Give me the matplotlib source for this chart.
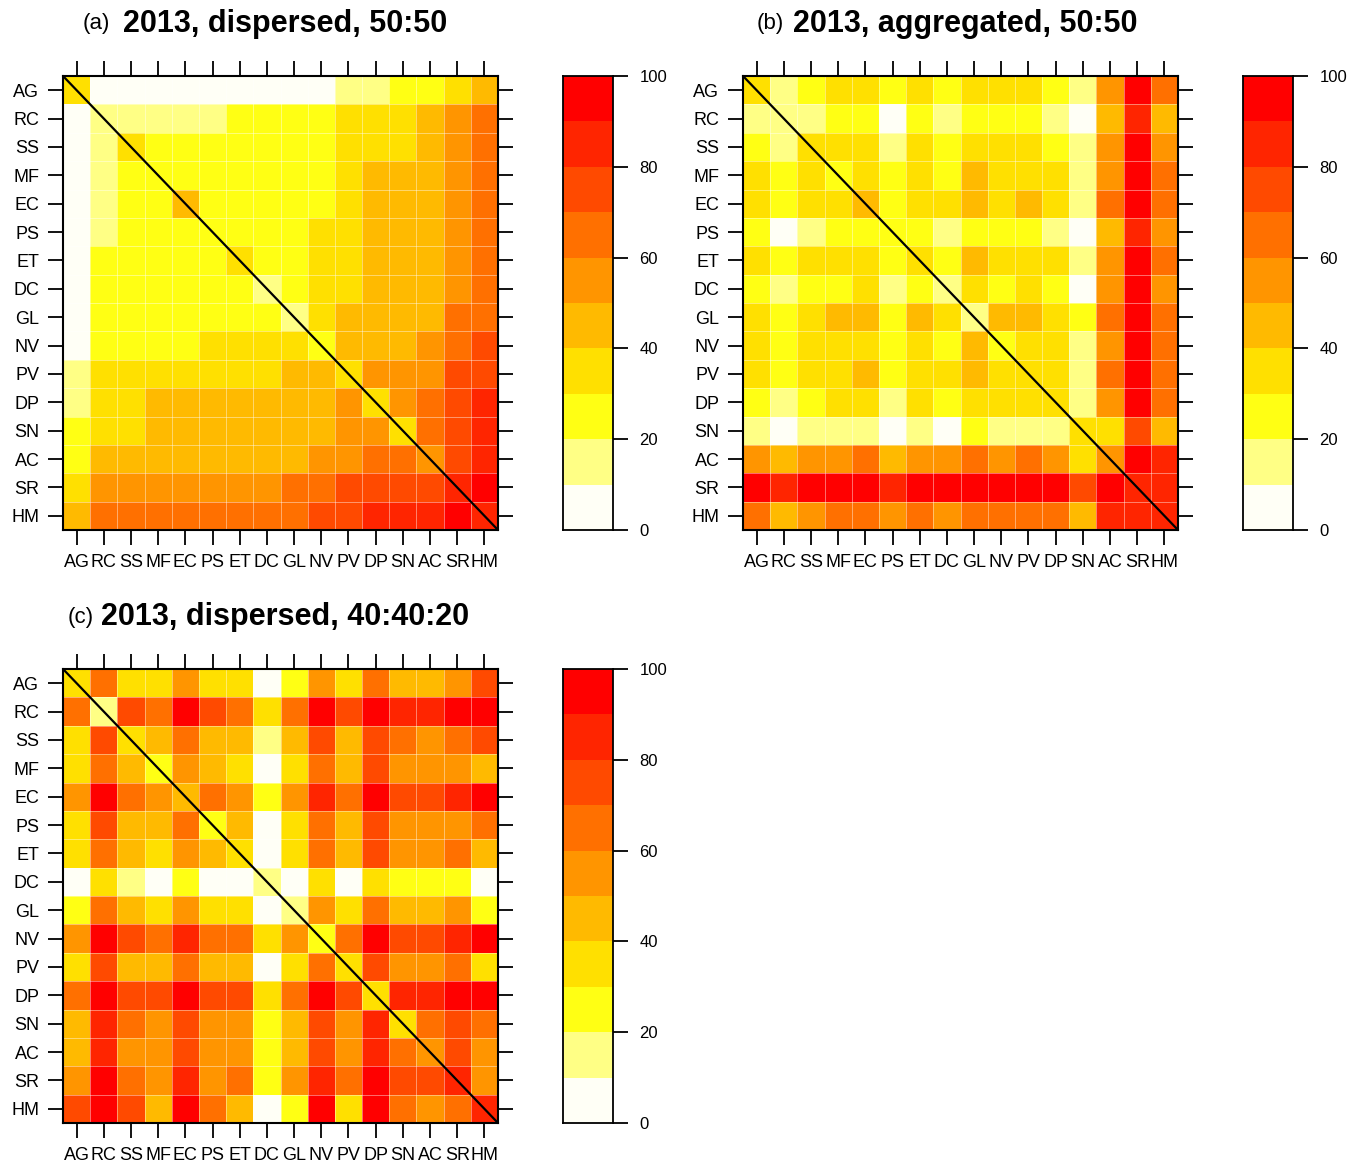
import numpy as np
import matplotlib
matplotlib.use("Agg")
import matplotlib.pyplot as plt
from matplotlib.colors import ListedColormap, BoundaryNorm

plt.rcParams['font.family'] = ['Liberation Sans', 'DejaVu Sans']

labels = ["AG", "RC", "SS", "MF", "EC", "PS", "ET", "DC", "GL", "NV", "PV", "DP", "SN", "AC", "SR", "HM"]

# percentages (rows top->bottom, columns left->right)
dispersed_50_50 = [
    [35, 5, 5, 5, 5, 5, 5, 5, 5, 5, 15, 15, 25, 25, 35, 45],
    [5, 15, 15, 15, 15, 15, 25, 25, 25, 25, 35, 35, 35, 45, 55, 65],
    [5, 15, 35, 25, 25, 25, 25, 25, 25, 25, 35, 35, 35, 45, 55, 65],
    [5, 15, 25, 25, 25, 25, 25, 25, 25, 25, 35, 45, 45, 45, 55, 65],
    [5, 15, 25, 25, 45, 25, 25, 25, 25, 25, 35, 45, 45, 45, 55, 65],
    [5, 15, 25, 25, 25, 25, 25, 25, 25, 35, 35, 45, 45, 45, 55, 65],
    [5, 25, 25, 25, 25, 25, 35, 25, 25, 35, 35, 45, 45, 45, 55, 65],
    [5, 25, 25, 25, 25, 25, 25, 15, 25, 35, 35, 45, 45, 45, 55, 65],
    [5, 25, 25, 25, 25, 25, 25, 25, 15, 35, 45, 45, 45, 45, 65, 65],
    [5, 25, 25, 25, 25, 35, 35, 35, 35, 25, 45, 45, 45, 55, 65, 75],
    [15, 35, 35, 35, 35, 35, 35, 35, 45, 45, 35, 55, 55, 55, 75, 75],
    [15, 35, 35, 45, 45, 45, 45, 45, 45, 45, 55, 35, 55, 65, 75, 85],
    [25, 35, 35, 45, 45, 45, 45, 45, 45, 45, 55, 55, 35, 65, 75, 85],
    [25, 45, 45, 45, 45, 45, 45, 45, 45, 55, 55, 65, 65, 55, 75, 85],
    [35, 55, 55, 55, 55, 55, 55, 55, 65, 65, 75, 75, 75, 75, 85, 95],
    [45, 65, 65, 65, 65, 65, 65, 65, 65, 75, 75, 85, 85, 85, 95, 85],
]

aggregated_50_50 = [
    [35, 15, 25, 35, 35, 25, 35, 25, 35, 35, 35, 25, 15, 55, 95, 65],
    [15, 15, 15, 25, 25, 5, 25, 15, 25, 25, 25, 15, 5, 45, 85, 45],
    [25, 15, 35, 35, 35, 15, 35, 25, 35, 35, 35, 25, 15, 55, 95, 55],
    [35, 25, 35, 25, 35, 25, 35, 25, 45, 35, 35, 35, 15, 55, 95, 65],
    [35, 25, 35, 35, 45, 25, 35, 35, 45, 35, 45, 35, 15, 65, 95, 65],
    [25, 5, 15, 25, 25, 25, 25, 15, 25, 25, 25, 15, 5, 45, 85, 55],
    [35, 25, 35, 35, 35, 25, 35, 25, 45, 35, 35, 35, 15, 55, 95, 65],
    [25, 15, 25, 25, 35, 15, 25, 15, 35, 25, 35, 25, 5, 55, 95, 55],
    [35, 25, 35, 45, 45, 25, 45, 35, 15, 45, 45, 35, 25, 65, 95, 65],
    [35, 25, 35, 35, 35, 25, 35, 25, 45, 25, 35, 35, 15, 55, 95, 65],
    [35, 25, 35, 35, 45, 25, 35, 35, 45, 35, 35, 35, 15, 65, 95, 65],
    [25, 15, 25, 35, 35, 15, 35, 25, 35, 35, 35, 35, 15, 55, 95, 65],
    [15, 5, 15, 15, 15, 5, 15, 5, 25, 15, 15, 15, 35, 35, 75, 45],
    [55, 45, 55, 55, 65, 45, 55, 55, 65, 55, 65, 55, 35, 55, 95, 85],
    [95, 85, 95, 95, 95, 85, 95, 95, 95, 95, 95, 95, 75, 95, 85, 85],
    [65, 45, 55, 65, 65, 55, 65, 55, 65, 65, 65, 65, 45, 85, 85, 85],
]

dispersed_40_40_20 = [
    [35, 65, 35, 35, 55, 35, 35, 5, 25, 55, 35, 65, 45, 45, 55, 75],
    [65, 15, 75, 65, 95, 75, 65, 35, 65, 95, 75, 95, 85, 85, 95, 95],
    [35, 75, 35, 45, 65, 45, 45, 15, 45, 75, 45, 75, 65, 55, 65, 75],
    [35, 65, 45, 25, 55, 45, 35, 5, 35, 65, 45, 75, 55, 55, 55, 45],
    [55, 95, 65, 55, 45, 65, 55, 25, 55, 85, 65, 95, 75, 75, 85, 95],
    [35, 75, 45, 45, 65, 25, 45, 5, 35, 65, 45, 75, 55, 55, 55, 65],
    [35, 65, 45, 35, 55, 45, 35, 5, 35, 65, 45, 75, 55, 55, 65, 45],
    [5, 35, 15, 5, 25, 5, 5, 15, 5, 35, 5, 35, 25, 25, 25, 5],
    [25, 65, 45, 35, 55, 35, 35, 5, 15, 55, 35, 65, 45, 45, 55, 25],
    [55, 95, 75, 65, 85, 65, 65, 35, 55, 25, 65, 95, 75, 75, 85, 95],
    [35, 75, 45, 45, 65, 45, 45, 5, 35, 65, 35, 75, 55, 55, 65, 35],
    [65, 95, 75, 75, 95, 75, 75, 35, 65, 95, 75, 35, 85, 85, 95, 95],
    [45, 85, 65, 55, 75, 55, 55, 25, 45, 75, 55, 85, 35, 65, 75, 65],
    [45, 85, 55, 55, 75, 55, 55, 25, 45, 75, 55, 85, 65, 55, 75, 55],
    [55, 95, 65, 55, 85, 55, 65, 25, 55, 85, 65, 95, 75, 75, 85, 55],
    [75, 95, 75, 45, 95, 65, 45, 5, 25, 95, 35, 95, 65, 55, 65, 85],
]

titles_tag = ["(a)", "(b)", "(c)"]
titles_main = ["2013, dispersed, 50:50", "2013, aggregated, 50:50", "2013, dispersed, 40:40:20"]
bar_ticks = [0, 20, 40, 60, 80, 100]

colors = ['#FFFFF6', '#FFFF85', '#FFFF14', '#FFE000', '#FFBA00',
          '#FF9500', '#FF7000', '#FF4A00', '#FF2500', '#FF0000']
bounds = np.arange(0, 101, 10)
cmap = ListedColormap(colors)
norm = BoundaryNorm(bounds, cmap.N)

W, H = 1358, 1162
fig = plt.figure(figsize=(W / 100, H / 100), dpi=100)

def fx(px):
    return px / W

def fy(py):
    return 1 - py / H

panels = [
    (dispersed_50_50, 63, 76, 563, (83, 24), (123, 24)),
    (aggregated_50_50, 743, 76, 1243, (757, 24), (793, 24)),
    (dispersed_40_40_20, 63, 669, 563, (68, 617), (101, 617)),
]
mw, mh = 435, 454

for i, (mat, x0, y0, cbx, tagpos, mainpos) in enumerate(panels):
    data = np.array(mat, dtype=float)
    ax = fig.add_axes([fx(x0), fy(y0 + mh), fx(mw), mh / H])
    n = len(labels)
    ax.pcolormesh(np.arange(n + 1), np.arange(n + 1), data, cmap=cmap, norm=norm)
    for k in range(1, n):
        ax.axhline(k, color='white', lw=0.6, alpha=0.5)
        ax.axvline(k, color='white', lw=0.6, alpha=0.5)
    ax.plot([0, n], [0, n], color='black', lw=1.6, solid_capstyle='butt')
    ax.set_xlim(0, n)
    ax.set_ylim(n, 0)
    ticks = np.arange(n) + 0.5
    ax.set_xticks(ticks)
    ax.set_yticks(ticks)
    ax.set_xticklabels(labels)
    ax.set_yticklabels(labels)
    ax.tick_params(axis='both', which='both', direction='out', length=11, width=1.3,
                   top=True, right=True, labeltop=False, labelright=False,
                   labelsize=13, colors='black')
    ax.tick_params(axis='y', pad=6)
    ax.tick_params(axis='x', pad=6)
    for sp in ax.spines.values():
        sp.set_linewidth(1.5)
        sp.set_color('black')

    # colour bar
    cax = fig.add_axes([fx(cbx), fy(y0 + mh), fx(50), mh / H])
    cax.pcolormesh([0, 1], bounds, np.array(bounds[:-1] + 5, dtype=float).reshape(-1, 1),
                   cmap=cmap, norm=norm)
    cax.set_xlim(0, 1)
    cax.set_ylim(0, 100)
    cax.set_xticks([])
    cax.yaxis.tick_right()
    cax.set_yticks(bar_ticks)
    cax.set_yticklabels([str(t) for t in bar_ticks])
    cax.tick_params(axis='y', direction='out', length=11, width=1.3, labelsize=12, pad=8,
                    left=False, right=True)
    for sp in cax.spines.values():
        sp.set_linewidth(1.3)
        sp.set_color('black')

    fig.text(fx(tagpos[0]), fy(tagpos[1]), titles_tag[i], fontsize=16, ha='left', va='center')
    fig.text(fx(mainpos[0]), fy(mainpos[1]), titles_main[i], fontsize=22, fontweight='bold',
             ha='left', va='center')

fig.savefig("out.png", dpi=100)
